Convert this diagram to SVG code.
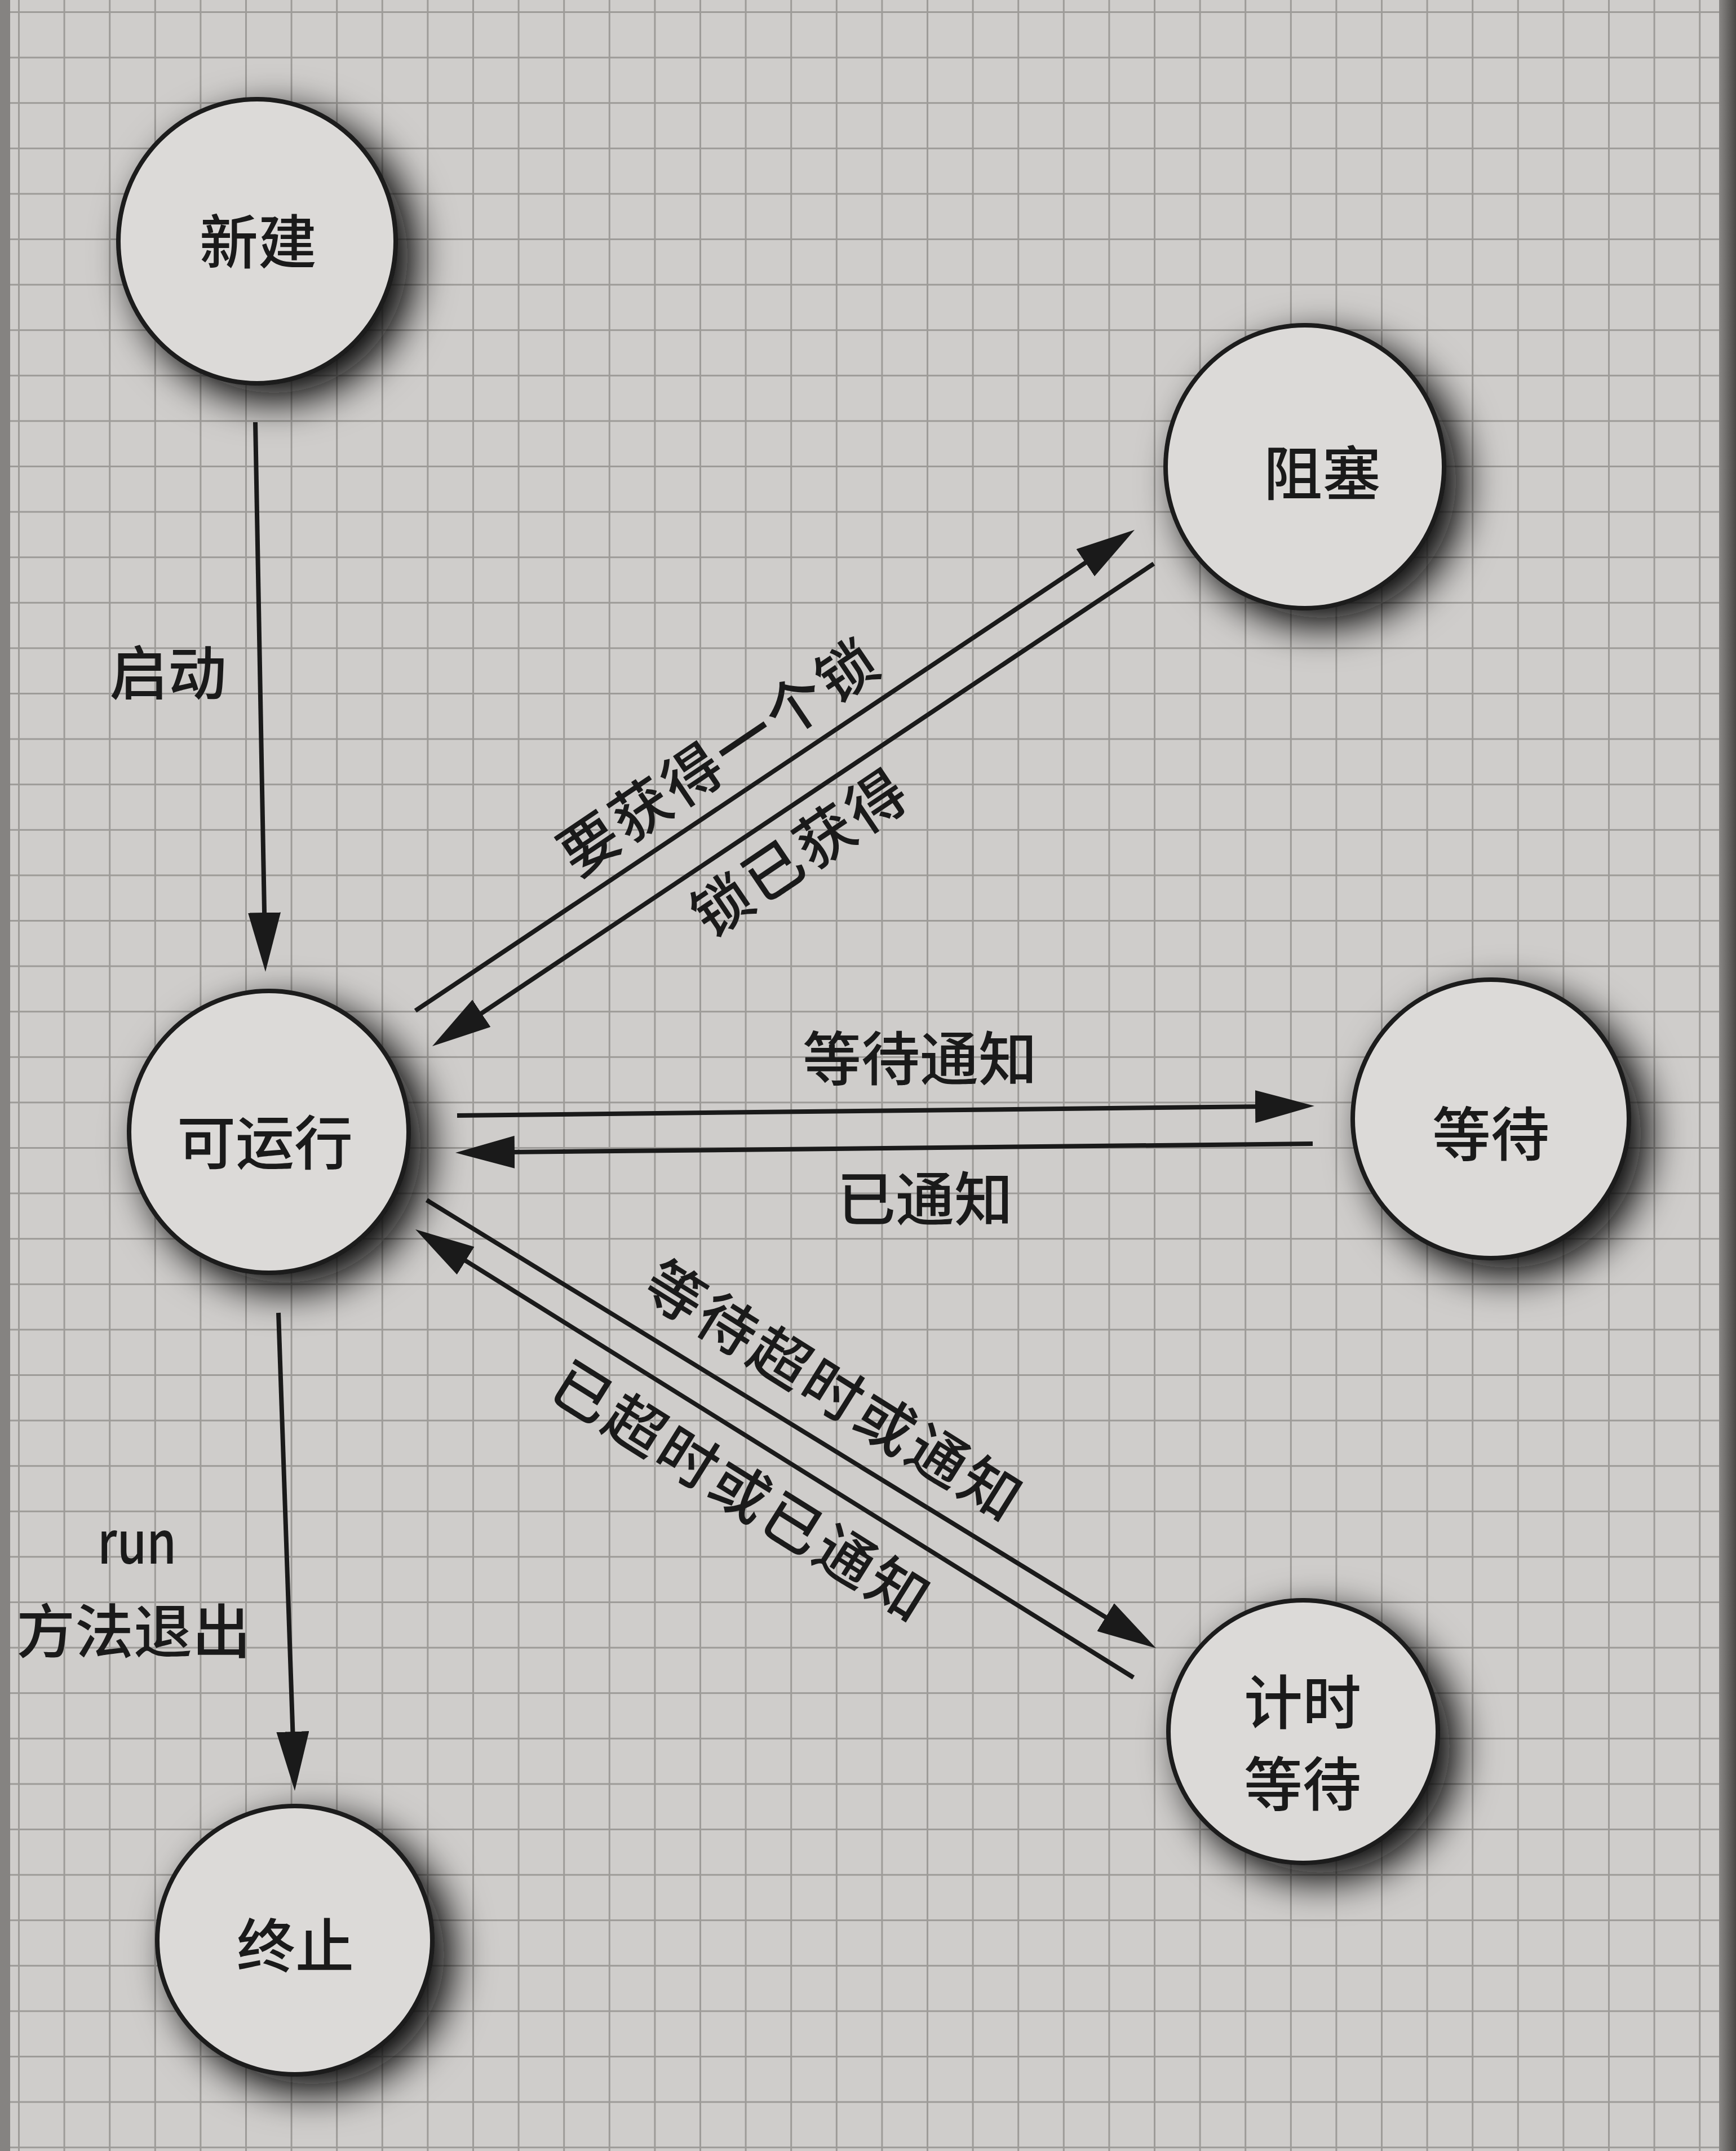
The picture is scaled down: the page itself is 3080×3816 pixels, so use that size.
<svg xmlns="http://www.w3.org/2000/svg" width="3080" height="3816" viewBox="0 0 3080 3816">
<defs>
<style>
.node{fill:#dcdad8;stroke:#1a1a1a;stroke-width:8;filter:url(#sh)}
.lbl{font-family:"Noto Sans CJK SC","Noto Sans",sans-serif;font-size:104px;font-weight:500;fill:#1a1a1a;text-anchor:middle;dominant-baseline:central}
.edge{stroke:#1a1a1a;stroke-width:8;fill:none;marker-end:url(#ah)}
</style>
<pattern id="grid" x="32" y="20" width="80.6" height="80.6" patternUnits="userSpaceOnUse">
<path d="M0,0 H80.6 M0,0 V80.6" stroke="#9d9b98" stroke-width="6" fill="none"/>
</pattern>
<filter id="sh" x="-40%" y="-40%" width="190%" height="190%">
<feGaussianBlur in="SourceAlpha" stdDeviation="36" result="b"/>
<feOffset in="b" dx="30" dy="26" result="o"/>
<feComponentTransfer in="o" result="s"><feFuncA type="linear" slope="1.05"/></feComponentTransfer>
<feFlood flood-color="#0a0a0a"/>
<feComposite in2="s" operator="in" result="shadow"/>
<feMerge><feMergeNode in="shadow"/><feMergeNode in="SourceGraphic"/></feMerge>
</filter>
<marker id="ah" markerUnits="userSpaceOnUse" viewBox="0 0 105 58" markerWidth="105" markerHeight="58" refX="85" refY="29" orient="auto">
<path d="M0,0 L105,29 L0,58 Z" fill="#1a1a1a"/>
</marker>
<linearGradient id="edgeR" x1="0" y1="0" x2="1" y2="0">
<stop offset="0" stop-color="#8a8886"/>
<stop offset="1" stop-color="#4a4846"/>
</linearGradient>
</defs>
<rect x="0" y="0" width="3080" height="3816" fill="#cfcdcb"/>
<rect x="0" y="0" width="3080" height="3816" fill="url(#grid)"/>
<rect x="0" y="0" width="18" height="3816" fill="#858381"/>
<rect x="3050" y="0" width="30" height="3816" fill="url(#edgeR)"/>

<g id="connectors">
<line class="edge" x1="453" y1="749" x2="470.6" y2="1704"/>
<line class="edge" x1="494" y1="2329" x2="522.3" y2="3157"/>
<line class="edge" x1="737" y1="1793" x2="1996.4" y2="951.1"/>
<line class="edge" x1="2047" y1="1000" x2="783.6" y2="1844.9"/>
<line class="edge" x1="811" y1="1979" x2="2312" y2="1962.2"/>
<line class="edge" x1="2329" y1="2029" x2="828" y2="2044.8"/>
<line class="edge" x1="757" y1="2129" x2="2034" y2="2913.5"/>
<line class="edge" x1="2011" y1="2976" x2="754" y2="2191.6"/>
<text class="lbl" x="298" y="1187">启动</text>
<text class="lbl" x="243" y="2728" textLength="140" lengthAdjust="spacingAndGlyphs">run</text>
<text class="lbl" x="237" y="2887">方法退出</text>
<text class="lbl" x="1632" y="1871">等待通知</text>
<text class="lbl" x="1641" y="2120">已通知</text>
<text class="lbl" transform="translate(1272,1336) rotate(-34)" letter-spacing="6">要获得一个锁</text>
<text class="lbl" transform="translate(1416,1506) rotate(-34)" letter-spacing="6">锁已获得</text>
<text class="lbl" transform="translate(1484,2462) rotate(32)" letter-spacing="6">等待超时或通知</text>
<text class="lbl" transform="translate(1320,2640) rotate(32)" letter-spacing="6">已超时或已通知</text>
</g>

<g id="node-new">
<ellipse class="node" cx="456" cy="428" rx="246" ry="252"/>
<text class="lbl" x="458" y="422">新建</text>
</g>
<g id="node-blocked">
<ellipse class="node" cx="2315" cy="828" rx="247" ry="251"/>
<text class="lbl" x="2346" y="833">阻塞</text>
</g>
<g id="node-runnable">
<ellipse class="node" cx="477" cy="2008" rx="248" ry="250"/>
<text class="lbl" x="470" y="2020">可运行</text>
</g>
<g id="node-waiting">
<ellipse class="node" cx="2645" cy="1985" rx="245" ry="247"/>
<text class="lbl" x="2645" y="2005">等待</text>
</g>
<g id="node-timed">
<ellipse class="node" cx="2312" cy="3072" rx="239" ry="233"/>
<text class="lbl" x="2311" y="3013">计时</text>
<text class="lbl" x="2311" y="3158">等待</text>
</g>
<g id="node-terminated">
<ellipse class="node" cx="523" cy="3442" rx="244" ry="238"/>
<text class="lbl" x="524" y="3445">终止</text>
</g>
</svg>
